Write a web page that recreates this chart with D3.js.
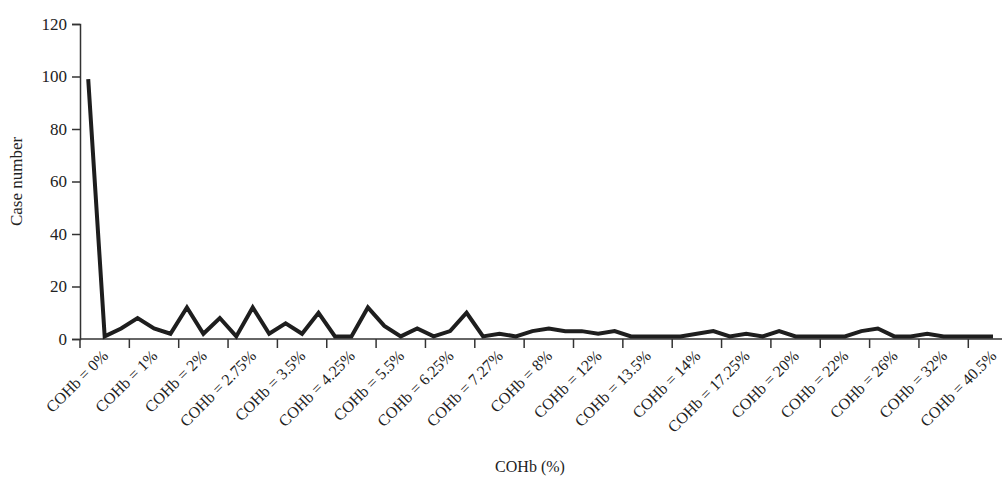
<!DOCTYPE html>
<html>
<head>
<meta charset="utf-8">
<script src="https://cdn.jsdelivr.net/npm/d3@7"></script>
<style>
  body { margin: 0; background: #fff; }
  svg text { font-family: "Liberation Serif", "Times New Roman", serif; fill: #222; }
</style>
</head>
<body>
<div id="chart"></div>
<script>
// COHb level categories (only every 3rd one is labelled on the axis)
const levels = ["0%", "0.25%", "0.5%", "1%", "1.25%", "1.5%", "2%", "2.25%", "2.5%", "2.75%",
                "3%", "3.25%", "3.5%", "3.75%", "4%", "4.25%", "4.5%", "5%", "5.5%", "5.75%",
                "6%", "6.25%", "6.5%", "7%", "7.27%", "7.5%", "7.75%", "8%", "9%", "10%",
                "12%", "12.5%", "13%", "13.5%", "13.6%", "13.75%", "14%", "15%", "16%", "17.25%",
                "18%", "19%", "20%", "20.5%", "21%", "22%", "23%", "25%", "26%", "28%",
                "30%", "32%", "35%", "38%", "40.5%", "42%"];

// case number per level
const cases = [99, 1, 4, 8, 4, 2, 12, 2, 8, 1,
               12, 2, 6, 2, 10, 1, 1, 12, 5, 1,
               4, 1, 3, 10, 1, 2, 1, 3, 4, 3,
               3, 2, 3, 1, 1, 1, 1, 2, 3, 1,
               2, 1, 3, 1, 1, 1, 1, 3, 4, 1,
               1, 2, 1, 1, 1, 1];

const yTicks = [0, 20, 40, 60, 80, 100, 120];
const labelEvery = 3;

const width = 1002, height = 481;
const plotLeft = 80, plotTop = 24, plotBottom = 339;

const svg = d3.select('#chart')
              .append('svg')
              .attr('width', width)
              .attr('height', height);

const x = d3.scaleBand()
            .domain(levels)
            .range([plotLeft, plotLeft + levels.length * 16.45]);

const y = d3.scaleLinear()
            .domain([0, 120])
            .range([plotBottom, plotTop]);

// y axis
const yAxis = svg.append('g')
                 .attr('transform', `translate(${plotLeft},0)`)
                 .call(d3.axisLeft(y).tickValues(yTicks).tickSize(8).tickPadding(5));
yAxis.select('.domain').attr('stroke', '#333').attr('stroke-width', 1.5);
yAxis.selectAll('.tick line').attr('stroke', '#333').attr('stroke-width', 1.5);
yAxis.selectAll('.tick text')
     .attr('font-size', 17)
     .attr('font-family', '"Liberation Serif", serif')
     .attr('fill', '#222');

// x axis baseline
svg.append('line')
   .attr('x1', plotLeft).attr('x2', width)
   .attr('y1', y(0)).attr('y2', y(0))
   .attr('stroke', '#333')
   .attr('stroke-width', 1.5);

const labelled = levels.filter((d, i) => i % labelEvery === 0);

// tick marks between categories
svg.append('g')
   .selectAll('line')
   .data(labelled)
   .enter().append('line')
   .attr('x1', d => x(d)).attr('x2', d => x(d))
   .attr('y1', y(0)).attr('y2', y(0) + 9)
   .attr('stroke', '#333')
   .attr('stroke-width', 1.5);

// rotated category labels
svg.append('g')
   .selectAll('text')
   .data(labelled)
   .enter().append('text')
   .attr('transform', d => `translate(${x(d) + x.bandwidth() / 2 + 13},${y(0) + 10}) rotate(-45)`)
   .attr('text-anchor', 'end')
   .attr('dy', '0.7em')
   .attr('font-size', 16)
   .text(d => 'COHb = ' + d);

// series line
const line = d3.line()
               .x((d, i) => x(levels[i]) + x.bandwidth() / 2)
               .y(d => y(d));

svg.append('path')
   .datum(cases)
   .attr('fill', 'none')
   .attr('stroke', '#1e1e1e')
   .attr('stroke-width', 4)
   .attr('d', line);

// axis titles
svg.append('text')
   .attr('x', 530)
   .attr('y', 472)
   .attr('text-anchor', 'middle')
   .attr('font-size', 16)
   .text('COHb (%)');

svg.append('text')
   .attr('transform', `translate(22,${(plotTop + plotBottom) / 2}) rotate(-90)`)
   .attr('text-anchor', 'middle')
   .attr('font-size', 17)
   .text('Case number');
</script>
</body>
</html>
